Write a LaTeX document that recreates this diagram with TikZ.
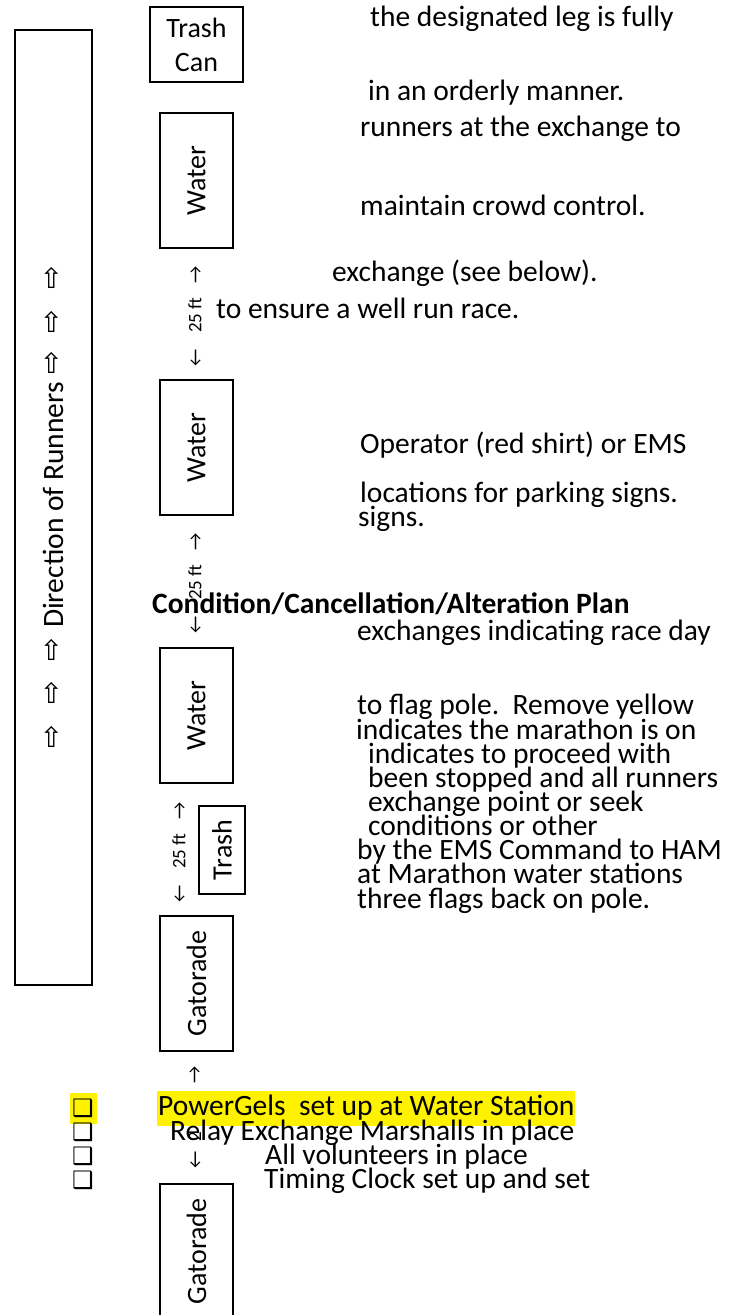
\documentclass[tikz,border=0pt]{standalone}
\usepackage{fontspec}
\setmainfont{Carlito}
\newfontfamily\symfont{DejaVu Sans}
\usetikzlibrary{positioning}
\newcommand\bodyfont{\fontsize{29.5}{34}\selectfont}
\newcommand\boxfont{\fontsize{28}{34}\selectfont}
\newcommand\gapfont{\fontsize{19}{19}\selectfont}

\begin{document}
\begin{tikzpicture}[
    x=1pt, y=-1pt,
    station/.style={rectangle, draw, line width=1.2pt, rotate=90, minimum width=135pt, minimum height=73pt, inner sep=0pt, font=\boxfont},
    gap/.style={rotate=90, inner sep=0pt, font=\gapfont},
    note/.style={anchor=base west, inner sep=0pt, font=\bodyfont},
    tick/.style={inner sep=0pt, font=\symfont\fontsize{24}{24}\selectfont},
    runner/.style={rotate=90, inner sep=0pt, font=\symfont\fontsize{28}{28}\selectfont}
  ]
  \clip (0,0) rectangle (739,1315);

  % lane with direction of runners
  \node[draw, line width=1.2pt, minimum width=77pt, minimum height=955pt] (lane) at (53.5,507.5) {};
  \node[rotate=90, inner sep=0pt, font=\bodyfont] (dir) at (53,505) {Direction of Runners};
  \foreach \y [count=\i] in {278,322,363,650,693,737}
    \node[runner] (arw\i) at (53,\y) {⇨};

  % stations along the course
  \node[draw, line width=1.2pt, minimum width=93pt, minimum height=75pt, align=center, inner sep=0pt, font=\boxfont] (can) at (196.5,44.5) {Trash\\Can};
  \node[station] (water1) at (196.5,180.5) {Water};
  \node[station] (water2) at (196.5,447.5) {Water};
  \node[station] (water3) at (196.5,715.5) {Water};
  \node[draw, line width=1.2pt, rotate=90, minimum width=88pt, minimum height=46pt, inner sep=0pt, font=\boxfont] (trash) at (222,850) {Trash};
  \node[station] (gator1) at (196.5,983.5) {Gatorade};
  \node[station] (gator2) at (196.5,1251.5) {Gatorade};

  % spacing between stations
  \node[gap] (gap1) at (195,316.5) {←\hspace{17pt}25 ft\hspace{14pt}→};
  \node[gap] (gap2) at (195,583.5) {←\hspace{17pt}25 ft\hspace{14pt}→};
  \node[gap] (gap3) at (179,852.5) {←\hspace{17pt}25 ft\hspace{14pt}→};
  \node[gap] (gap4a) at (195,1150) {←\hspace{10pt}2};
  \node[gap] (gap4b) at (195,1075) {→};

  % instructions
  \node[note] (t1) at (370,26) {the designated leg is fully};
  \node[note] (t2) at (368,100) {in an orderly manner.};
  \node[note] (t3) at (360,136) {runners at the exchange to};
  \node[note] (t4) at (360,215) {maintain crowd control.};
  \node[note] (t5) at (332,281) {exchange (see below).};
  \node[note] (t6) at (216,318) {to ensure a well run race.};
  \node[note] (t7) at (360,453) {Operator (red shirt) or EMS};
  \node[note] (t8) at (360,502) {locations for parking signs.};
  \node[note] (t9) at (358,526) {signs.};
  \node[note, font=\bodyfont\bfseries] (plan) at (152,613) {Condition/Cancellation/Alteration Plan};
  \node[note] (p1) at (357,640) {exchanges indicating race day};
  \node[note] (p2) at (357,714) {to flag pole.\ \ Remove yellow};
  \node[note] (p3) at (356,739) {indicates the marathon is on};
  \node[note] (p4) at (368,763) {indicates to proceed with};
  \node[note] (p5) at (368,787) {been stopped and all runners};
  \node[note] (p6) at (368,811) {exchange point or seek};
  \node[note] (p7) at (368,835) {conditions or other};
  \node[note] (p8) at (357,859) {by the EMS Command to HAM};
  \node[note] (p9) at (357,883) {at Marathon water stations};
  \node[note] (p10) at (357,908) {three flags back on pole.};

  % checklist
  \node[fill=yellow, minimum width=27pt, minimum height=31pt, inner sep=0pt] (mark) at (83.5,1108.5) {};
  \node[tick] (box1) at (83,1108) {❑};
  \node[tick] (box2) at (83,1132) {❑};
  \node[tick] (box3) at (83,1156) {❑};
  \node[tick] (box4) at (83,1180) {❑};
  \node[note, fill=yellow, text height=24pt, text depth=11pt, inner xsep=1pt] (c1) at (157,1115) {PowerGels\ \ set up at Water Station};
  \node[note] (c2) at (170,1140) {Relay Exchange Marshalls in place};
  \node[note] (c3) at (265,1164) {All volunteers in place};
  \node[note] (c4) at (264,1188) {Timing Clock set up and set};
\end{tikzpicture}
\end{document}
